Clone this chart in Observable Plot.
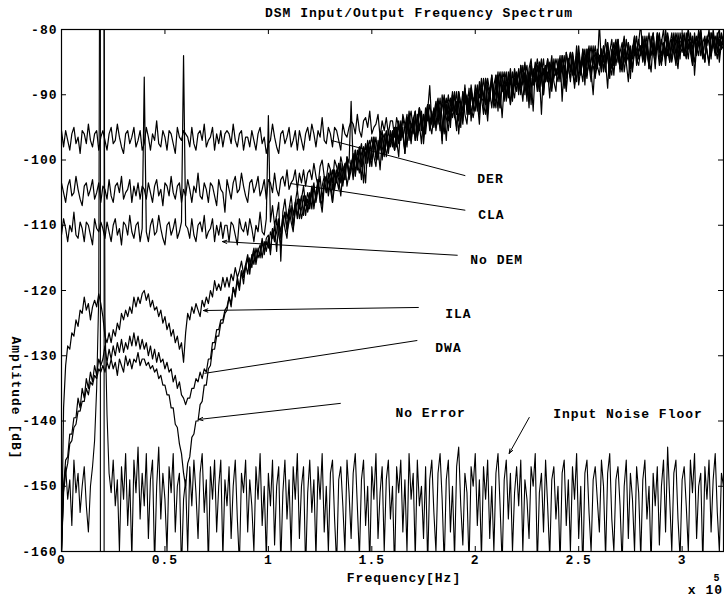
<!DOCTYPE html>
<html>
<head>
<meta charset="utf-8">
<script src="https://cdn.jsdelivr.net/npm/d3@7"></script>
<script src="https://cdn.jsdelivr.net/npm/@observablehq/plot@0.6"></script>
<style>
  html, body { margin: 0; padding: 0; background: white; }
  #chart { width: 724px; height: 597px; }
</style>
</head>
<body>
<div id="chart"></div>
<script>
// ---------- axis ticks ----------
const xTicks = [0, 0.5, 1, 1.5, 2, 2.5, 3];
const yTicks = [-160, -150, -140, -130, -120, -110, -100, -90, -80];

// ---------- spectra of the DEM variants (frequency in 1e5 Hz, sampled every 0.01) ----------
const demStep = 0.01;
const derDb = [
 -95.5,-98,-95.5,-97,-98.5,-96,-95,-97.5,-96.5,-99,-95.5,-96,-97.5,-94.5,-97,-98,-96,-95.5,-98.5,-96.5,
 -95.5,-97,-98.5,-96,-95,-97.5,-97,-94.5,-96.5,-98,-99,-96,-95.5,-97.5,-96.5,-95,-98,-97,-95.5,-98.5,
 -97.5,-95,-96.5,-98.5,-96,-97,-94,-97.5,-98,-95.5,-96.5,-98.5,-95.5,-96,-97.5,-99,-95,-96.5,-97,-95.5,
 -96,-96.5,-98,-95,-97.5,-98.5,-96,-95.5,-97,-94.5,-98,-97,-96.5,-95,-98.5,-96,-97.5,-95.5,-98,-96,
 -95.5,-96,-97.5,-94.5,-97,-98,-96,-95.5,-98.5,-96.5,-96.5,-98,-95.5,-97,-98.5,-96,-95,-97.5,-96.5,-99,
 -97.5,-97,-94.5,-96.5,-98,-99,-96,-95.5,-97.5,-96.5,-95,-98,-97,-95.5,-98.5,-95.5,-97,-98.5,-96,-95,
 -97,-94.5,-96,-98,-95.5,-96.5,-93.5,-97,-97.5,-95,-96,-98,-95,-95.5,-97,-98.5,-94.5,-96,-96.5,-95,
 -94,-94.5,-96,-93,-95.5,-96.5,-94,-93.5,-95,-92.5,-96,-95,-94.5,-93,-96.5,-94,-95.5,-93.5,-96,-94,
 -94,-96.5,-93.5,-95,-97,-93,-94.5,-96,-92.5,-95,-93.5,-97,-94,-92,-95.5,-93,-96,-92.5,-88.6,-94.5,
 -92,-95.5,-93,-90.5,-94,-96,-91.5,-92.5,-95,-90,-93.5,-91,-96,-92.5,-89.5,-93,-94.5,-90.5,-92,-93.5,
 -91.5,-88.5,-93,-90,-87.5,-91,-94,-89.5,-88,-92,-90.5,-87,-89.5,-93.5,-88.5,-90,-86.5,-91.5,-89,-87.5,
 -89.5,-86.5,-88,-91,-87,-85.5,-89.5,-87.5,-92.5,-86,-88.5,-85,-87.5,-90,-86.5,-84.5,-88,-89.5,-85.5,-87,
 -85.5,-88,-84,-86.5,-89.5,-85,-83.5,-87,-85.5,-84,-88.5,-86,-83,-85.5,-87.5,-84,-86.5,-90,-84.5,-83.5,
 -84,-86.5,-82.5,-85,-83.5,-87.5,-84,-82,-85.5,-83,-86,-84.5,-81.5,-85,-88,-83,-84.5,-82,-85.5,-83.5,
 -82.5,-85,-83,-81,-84.5,-86.5,-82,-83.5,-80.5,-84,-85.5,-82,-83.5,-81,-85,-82.5,-80.5,-84,-86,-82,
 -81.5,-84,-82.5,-80,-83.5,-85.5,-81,-82.5,-84,-80.5,-83,-85,-81.5,-82,-84.5,-80.5,-83,-81.5,-85,-82,
 -81.5];
const claDb = [
 -103.5,-105,-106.5,-104,-103,-105.5,-105,-102.5,-104.5,-106,-107,-104,-103.5,-105.5,-104.5,-103,-106,-105,-103.5,-106.5,
 -104,-104.5,-106,-103,-105.5,-106.5,-104,-103.5,-105,-102.5,-106,-105,-104.5,-103,-106.5,-104,-105.5,-103.5,-106,-104,
 -104.5,-106,-103.5,-105,-106.5,-104,-103,-105.5,-104.5,-107,-103.5,-104,-105.5,-102.5,-105,-106,-104,-103.5,-106.5,-104.5,
 -105.5,-103,-104.5,-106.5,-104,-105,-102,-105.5,-106,-103.5,-104.5,-106.5,-103.5,-104,-105.5,-107,-103,-104.5,-105,-108,
 -103,-104.5,-106,-103.5,-102.5,-105,-104.5,-102,-104,-105.5,-106.5,-103.5,-103,-105,-104,-102.5,-105.5,-104.5,-103,-106,
 -103,-103.5,-105,-102,-104.5,-105.5,-103,-102.5,-104,-101.5,-104.5,-103.5,-103,-101.5,-104.5,-102,-103.5,-101.5,-104,-102,
 -101.5,-103,-100.5,-102.5,-104,-101,-100,-102.5,-103,-100.5,-101.5,-103.5,-100,-101,-102.5,-99.5,-101,-103,-99.5,-100.5,
 -91,-101,-98.5,-100.5,-102,-99,-98,-100.5,-97.5,-99,-101,-97,-98.5,-100,-96.5,-98,-99.5,-96,-98,-97,
 -95.5,-98.5,-96,-94,-97,-95,-99,-94.5,-93.5,-96.5,-94,-97,-93,-95.5,-92.5,-96,-94,-91.5,-95,-93,
 -94.5,-91.5,-92.5,-95.5,-90,-93,-97,-91.5,-90.5,-93.5,-92,-89.5,-94,-91,-92.5,-88.5,-93,-90.5,-89,-92.5,
 -89.5,-92.5,-88,-90.5,-91,-87.5,-93,-89,-88.5,-91.5,-87,-90,-92,-88,-86.5,-90.5,-89,-87.5,-91,-86.5,
 -88.5,-86,-90,-87.5,-85,-89,-86.5,-91.5,-86,-88,-85.5,-89.5,-87,-84.5,-88,-86.5,-90.5,-85,-87.5,-86,
 -87,-84.5,-85.5,-88.5,-83.5,-86,-87.5,-84,-89,-85.5,-83.5,-86.5,-84.5,-87,-83,-85.5,-88,-84,-86,-83,
 -85.5,-83,-86.5,-84,-82,-85.5,-87,-83.5,-84,-81.5,-85,-86.5,-83,-84.5,-82,-86,-83.5,-81,-84.5,-85.5,
 -83,-81.5,-84.5,-82.5,-86,-81,-83.5,-85,-82,-80.5,-84,-82.5,-85.5,-81.5,-83,-84.5,-81,-82.5,-85,-80.5,
 -82.5,-84,-80.5,-83,-82,-85,-81,-83.5,-80,-82.5,-84.5,-81.5,-82.5,-80,-84,-82,-81,-83.5,-80.5,-82.5,
 -81];
const noDemDb = [
 -111.5,-109,-110.5,-112.5,-110,-111,-108,-111.5,-112,-109.5,-110.5,-112.5,-109.5,-110,-111.5,-113,-109,-110.5,-111,-109.5,
 -110.5,-112,-109.5,-111,-112.5,-110,-109,-111.5,-110.5,-113,-109.5,-110,-111.5,-108.5,-111,-112,-110,-109.5,-112.5,-110.5,
 -87.3,-111,-112.5,-110,-109,-111.5,-111,-108.5,-110.5,-112,-113,-110,-109.5,-111.5,-110.5,-109,-112,-111,-109.5,-84,
 -110,-110.5,-112,-109,-111.5,-112.5,-110,-109.5,-111,-108.5,-112,-111,-110.5,-109,-112.5,-110,-111.5,-109.5,-112,-110,
 -110,-112.5,-109.5,-110,-111.5,-113,-109,-110.5,-111,-109.5,-111.5,-109,-110.5,-112.5,-110,-111,-108,-111,-111.5,-109,
 -93.2,-109.5,-107,-110,-108.5,-106.5,-115.5,-108,-106,-109,-107.5,-105.5,-108.5,-106.5,-104.5,-107.5,-106,-104,-107,-105,
 -106.5,-104,-107.5,-105,-103.5,-106,-108,-104,-102.5,-105.5,-103,-106.5,-104,-101.5,-103,-105.5,-102,-100.5,-104,-102,
 -100.5,-103,-99,-101.5,-98,-100,-103.5,-99,-97.5,-100.5,-98.5,-96.5,-100,-98,-101.5,-97,-96,-99.5,-97.5,-95.5,
 -98,-95.5,-97,-99.5,-94.5,-96,-98.5,-93.5,-95,-97.5,-94,-92.5,-96.5,-95,-93,-97.5,-94,-92,-95.5,-94,
 -92.5,-95,-91,-93.5,-96.5,-92,-90.5,-94,-92.5,-89.5,-93,-95,-90.5,-92,-94.5,-89,-91.5,-93,-90,-91.5,
 -92.5,-89,-90.5,-87.5,-91.5,-93,-88.5,-90,-87,-91,-89.5,-86.5,-92,-88.5,-90.5,-87,-89,-91.5,-86.5,-88.5,
 -87,-90,-85.5,-88.5,-87,-91,-86,-84.5,-88.5,-87,-89.5,-85,-87.5,-90,-85.5,-88,-86.5,-84,-88,-89.5,
 -84.5,-87,-86,-89,-83.5,-85.5,-88,-84,-86.5,-82.5,-87.5,-85,-84,-88.5,-83,-86,-85,-82.5,-87,-85.5,
 -87,-83.5,-85,-81.5,-84.5,-86.5,-83,-85.5,-82,-84,-86,-83,-81,-85,-84,-87.5,-82.5,-84,-83,-81.5,
 -84,-82,-85.5,-83,-80.5,-84,-82.5,-86,-81,-83.5,-82,-80,-84.5,-83,-85,-81.5,-83.5,-80.5,-82,-84.5,
 -80.5,-83,-84.5,-81.5,-82,-85,-80.5,-83.5,-82,-80,-84,-81.5,-83,-85.5,-80.5,-82,-83.5,-81,-80,-83,
 -82.5];
const ilaDb = [
 -160,-138,-131.5,-128.5,-129,-126.5,-127,-124.5,-125.5,-123,-123.5,-121,-123,-122,-124.5,-122.5,-121.5,-122.5,-120.5,-122,
 -124,-127,-128,-126.5,-128,-126,-127,-125,-126,-123.5,-124.5,-123,-124,-122.5,-123.5,-121,-122.5,-121,-122,-120.5,
 -120,-121.5,-120.5,-122.5,-121.5,-123,-122.5,-124,-123,-125,-124,-126,-125,-127,-126,-128,-127,-129,-128,-131,
 -126.5,-123.5,-124.5,-122.5,-123.5,-122,-123,-124,-121.5,-122.5,-121,-122,-120,-121,-118.5,-120,-119,-120,-118,-119.5,
 -118,-119.5,-117.5,-118.5,-116.5,-118,-117,-115.5,-117.5,-116,-114.5,-116.5,-115,-113.5,-116,-114,-113,-115,-112.5,-114,
 -112,-114.5,-110.5,-112.5,-109,-111.5,-113,-109.5,-108,-111,-109.5,-107,-110.5,-108,-106,-109,-107.5,-105.5,-108.5,-106,
 -107.5,-105,-103.5,-106.5,-104.5,-102.5,-106,-103.5,-105,-102,-104.5,-106.5,-101.5,-103,-104.5,-100.5,-103.5,-102,-100,-103,
 -101.5,-99.5,-102,-98.5,-100,-103,-98,-99.5,-97,-101,-98,-96.5,-99.5,-98.5,-96,-100,-97,-95.5,-98.5,-97,
 -96,-98.5,-95,-97.5,-94.5,-96,-99,-93.5,-95.5,-97,-94,-92.5,-96,-94.5,-97.5,-93,-95,-92,-94.5,-96,
 -93,-91,-94.5,-92,-97.5,-90.5,-93,-91.5,-94,-90,-92.5,-95.5,-89.5,-91.5,-93.5,-90,-92,-89,-94,-90.5,
 -91,-89,-92.5,-88,-90,-91.5,-87.5,-89.5,-92,-88.5,-87,-90.5,-89,-86.5,-91,-88,-89.5,-86.5,-90,-88.5,
 -86.5,-89.5,-88,-85.5,-90,-87,-92,-85.5,-88.5,-86,-87.5,-89.5,-85,-86.5,-88,-84.5,-87,-89,-85.5,-86.5,
 -88,-85,-86.5,-84,-87.5,-85.5,-83.5,-86.5,-88.5,-84.5,-85,-87,-83,-86,-84.5,-82.5,-86.5,-85,-83.5,-86,
 -79,-85.5,-84,-86.5,-82.5,-84,-86,-83,-81.5,-85,-83.5,-82,-86.5,-84,-82.5,-85,-83,-81,-84.5,-83,
 -82.5,-84.5,-81,-83.5,-85,-82,-80.5,-84,-82.5,-85.5,-81.5,-83,-84,-80.5,-82.5,-85,-83,-81,-84,-82.5,
 -83.5,-81,-82.5,-84.5,-80.5,-83,-81.5,-84,-82,-80.5,-83.5,-85,-81,-82,-84,-80,-82.5,-84.5,-81.5,-83,
 -81.5];
const dwaDb = [
 -160,-150,-146,-145.5,-142,-142,-139.5,-139.5,-136.5,-138,-135,-136.5,-133.5,-135,-132.5,-134,-131.5,-133,-130.5,-131.5,
 -130.5,-128.5,-131,-129,-130.5,-128.5,-130,-128,-129.5,-127.5,-129.5,-128,-129,-127,-128.5,-126.5,-128.5,-127,-129,-127.5,
 -129,-128,-130,-128.5,-130.5,-129,-131,-129.5,-131,-130.5,-132,-131,-132.5,-132,-134,-133,-135,-134,-136,-136.5,
 -137.5,-136.5,-136.5,-135,-135,-133.5,-134,-132.5,-133.5,-132,-132.5,-130.5,-130.5,-128,-128,-126,-126,-124.5,-124.5,-123,
 -122.5,-121,-122,-119.5,-120.5,-118,-119.5,-117,-118,-116.5,-115,-117.5,-114.5,-116,-113.5,-115,-114,-112,-114.5,-112.5,
 -113.5,-111,-112,-110,-114,-109.5,-111,-108.5,-110.5,-112,-108,-107.5,-110,-106.5,-109,-107,-105.5,-108.5,-106,-107.5,
 -105,-107.5,-104,-106,-103,-105.5,-107,-103.5,-102.5,-105,-103,-101.5,-104.5,-102.5,-100.5,-103.5,-101,-103,-99.5,-102,
 -100,-102,-98.5,-101.5,-99,-97.5,-100.5,-103.5,-98,-97,-100,-98.5,-96.5,-99.5,-97,-95.5,-98.5,-96.5,-99,-96,
 -97,-95,-98,-94.5,-96.5,-93.5,-95.5,-98,-94,-92.5,-95.5,-93.5,-97,-92,-94.5,-95.5,-92,-94,-91.5,-93.5,
 -94,-92,-90.5,-93.5,-97,-91,-92.5,-90,-94,-91.5,-89.5,-93,-91,-95,-89.5,-91.5,-90,-93,-88.5,-91,
 -90,-92,-88.5,-90.5,-93,-87.5,-89,-91,-87.5,-90,-88.5,-92.5,-87,-89.5,-88,-86.5,-90.5,-88,-89,-86,
 -88,-86.5,-89,-87,-85.5,-88.5,-90.5,-86,-87.5,-85,-88,-86.5,-84.5,-89,-86,-87.5,-85,-88.5,-86.5,-84.5,
 -86,-84,-91,-85.5,-87,-84.5,-86,-83.5,-85.5,-88,-84,-86.5,-85,-83,-87,-84.5,-82.5,-85.5,-87.5,-84,
 -85,-83,-86,-84.5,-82,-85.5,-84,-87,-83,-81.5,-84.5,-86,-83,-85,-82,-84,-86.5,-82.5,-84,-82,
 -79,-84.5,-82,-83.5,-85.5,-81.5,-83,-84,-80.5,-82.5,-85,-83,-81,-84,-82.5,-80.5,-83.5,-85,-81.5,-83,
 -82,-80.5,-84,-82.5,-81,-83.5,-85,-81,-82.5,-80,-83,-84.5,-81.5,-80.5,-83,-82,-84,-80.5,-82.5,-81,
 -82];
const noErrorDb = [
 -160,-151,-148,-146.5,-143.5,-143,-141,-140.5,-138.5,-138.5,-137,-137,-135,-136,-134,-134.5,-133,-133.5,-132,-132.5,
 -131.5,-132.5,-131,-132,-130.5,-132,-131,-133,-130.5,-131.5,-132.5,-130,-131.5,-130.5,-132,-130.5,-131,-129.5,-131.5,-130.5,
 -130.5,-131.5,-131,-132,-131.5,-132.5,-132,-133.5,-133,-134.5,-134.5,-136,-136,-138,-138,-140.5,-141,-143.5,-145,-148,
 -150,-146.5,-145.5,-142.5,-142,-140,-140,-137.5,-137,-134.5,-134.5,-132,-131.5,-129,-129,-127,-127,-125,-125,-123.5,
 -123,-121,-122.5,-119.5,-121,-118.5,-120,-117,-119,-116,-117.5,-115,-116.5,-114,-115.5,-113.5,-115,-112.5,-114,-112,
 -111.5,-114,-110.5,-112.5,-111,-109,-112,-110,-108,-110.5,-107.5,-109.5,-111,-107,-108.5,-106,-109,-107.5,-105.5,-108,
 -106.5,-104.5,-107,-105.5,-103,-106.5,-104,-102.5,-105,-103.5,-101.5,-104.5,-102,-103.5,-100.5,-102.5,-104,-101,-100,-102.5,
 -101,-99,-102.5,-100,-98,-101,-99.5,-97.5,-100.5,-98,-96.5,-99.5,-101,-97,-98.5,-96,-99,-97.5,-95.5,-98,
 -96.5,-98.5,-95,-97,-94,-96.5,-95,-93,-97,-94.5,-96,-93.5,-95.5,-92,-94,-96.5,-93,-91.5,-94.5,-92.5,
 -95,-92.5,-91,-94,-92,-90,-93.5,-95.5,-91,-92.5,-90,-93,-89.5,-91.5,-94,-90,-91,-92.5,-89,-92,
 -88.5,-91,-94.5,-89,-90.5,-88,-91.5,-89.5,-87,-90,-92,-88,-86.5,-89.5,-87.5,-91,-88.5,-86,-89,-90.5,
 -87,-89,-85.5,-88,-86.5,-90,-87.5,-85,-88.5,-87,-84.5,-87,-93,-86,-88,-85,-86.5,-88.5,-84.5,-87,
 -85.5,-87.5,-84,-86,-89,-84.5,-86.5,-83.5,-87,-85,-82.5,-86,-88,-84,-85.5,-83,-87,-84.5,-82.5,-85.5,
 -84,-86,-82.5,-85,-89,-83.5,-81.5,-85.5,-84,-82,-86.5,-83,-85,-81.5,-84.5,-82.5,-86,-83.5,-81,-84.5,
 -83.5,-81,-84.5,-82,-86,-83,-80.5,-84,-82.5,-81,-85,-83.5,-80,-82.5,-84.5,-81.5,-83,-85.5,-80.5,-83,
 -81.5,-84,-82,-80,-83.5,-81,-87,-82.5,-80.5,-84,-82,-81,-83.5,-85,-80.5,-82,-83.5,-81,-84,-80.5,
 -82];

// ---------- input noise floor (sampled every 0.01), input tone near 0.19-0.20 ----------
const floorStep = 0.01;
const noiseFloorDb = [
 -160,-150,-147,-152,-149,-156,-146,-151,-148,-154,-150,-147,-153,-157,-150,-147,-143,-135,-121,0,
 0,-124,-139,-148,-151,-146,-153,-149,-160,-147,-152,-145,-156,-149,-161,-146,-151,-144,-155,-148,
 -153,-145,-158,-149,-146,-162,-150,-144,-155,-148,-152,-160,-147,-151,-145,-157,-150,-148,-163,-152,
 -149,-160,-147,-153,-146,-151,-158,-148,-145,-154,-149,-162,-147,-152,-146,-157,-150,-146,-161,-149,
 -153,-147,-158,-150,-146,-155,-162,-148,-151,-146,-157,-149,-153,-160,-147,-152,-145,-156,-150,-161,
 -148,-153,-146,-159,-150,-147,-162,-151,-146,-155,-149,-160,-147,-152,-145,-158,-150,-147,-163,-151,
 -146,-154,-149,-161,-147,-152,-145,-157,-150,-160,-148,-146,-155,-162,-149,-147,-153,-160,-146,-151,
 -158,-148,-145,-153,-161,-149,-146,-156,-150,-162,-147,-152,-145,-158,-151,-147,-160,-149,-146,-155,
 -150,-163,-147,-151,-146,-157,-149,-160,-145,-152,-148,-161,-146,-153,-150,-158,-147,-162,-149,-146,
 -154,-160,-148,-145,-152,-162,-149,-146,-157,-150,-161,-147,-144,-153,-159,-148,-151,-162,-147,-150,
 -145,-156,-149,-161,-147,-152,-146,-158,-150,-160,-148,-145,-153,-162,-149,-146,-155,-148,-160,-151,
 -147,-153,-146,-160,-149,-152,-158,-147,-150,-145,-162,-151,-148,-157,-146,-153,-161,-149,-147,-155,
 -150,-162,-148,-146,-156,-149,-160,-147,-152,-145,-158,-150,-163,-148,-146,-154,-160,-149,-147,-152,
 -157,-146,-150,-161,-148,-145,-155,-160,-149,-147,-153,-162,-150,-146,-158,-148,-152,-160,-147,-151,
 -161,-149,-146,-155,-150,-162,-148,-153,-147,-159,-150,-146,-157,-144,-152,-160,-148,-146,-155,-161,
 -149,-147,-153,-160,-146,-151,-145,-158,-150,-148,-162,-147,-152,-146,-157,-149,-145,-154,-160,-148,
 -150];

// input tone flanks (the tone itself is far above the top of the axis)
const toneFreq = [0.188, 0.206];

// ---------- annotations ----------
const labelNames = ["DER", "CLA", "No DEM", "ILA", "DWA", "No Error", "Input Noise Floor"];
const labelFreq  = [2.010, 2.014, 1.976, 1.855, 1.807, 1.614, 2.377];
const labelDb    = [-102.84, -108.35, -115.25, -123.52, -128.74, -138.70, -138.85];
const pointerFromFreq = [1.952, 1.952, 1.913, 1.725, 1.720, 1.348, 2.261];
const pointerFromDb   = [-102.4, -107.7, -114.6, -122.6, -127.66, -137.3, -139.46];
const pointerToFreq   = [1.304, 1.106, 0.778, 0.686, 0.691, 0.662, 2.164];
const pointerToDb     = [-97.0, -103.6, -112.5, -123.07, -132.7, -139.77, -144.98];
const pointerHasHead  = [false, false, true, true, false, true, true];

// ---------- build tables ----------
const seriesNames = ["DER", "CLA", "No DEM", "ILA", "DWA", "No Error"];
const seriesValues = [derDb, claDb, noDemDb, ilaDb, dwaDb, noErrorDb];
const demRows = [];
seriesNames.forEach((name, k) => {
  seriesValues[k].forEach((v, i) => demRows.push({series: name, freq: +(i * demStep).toFixed(4), db: v}));
});
const floorRows = noiseFloorDb.map((v, i) => ({freq: +(i * floorStep).toFixed(4), db: v}));
const pointers = labelNames.map((name, i) => ({
  name, x1: pointerFromFreq[i], y1: pointerFromDb[i], x2: pointerToFreq[i], y2: pointerToDb[i], head: pointerHasHead[i]
}));
const labels = labelNames.map((name, i) => ({name, x: labelFreq[i], y: labelDb[i]}));

const FONT = "'Liberation Mono', 'Courier New', monospace";
const yMin = -160, yMax = -80, xMin = 0, xMax = 3.2;

const chart = Plot.plot({
  width: 724,
  height: 597,
  marginTop: 29,
  marginBottom: 46,
  marginLeft: 61,
  marginRight: 1,
  style: `font-family: ${FONT}; font-size: 13px; font-weight: bold; letter-spacing: 1px; background: white; color: black;`,
  x: {domain: [xMin, xMax], ticks: xTicks, tickSize: 0, tickPadding: 3, tickFormat: d => String(d), label: null},
  y: {domain: [yMin, yMax], ticks: yTicks, tickSize: 0, tickPadding: 4, tickFormat: d => String(d), label: null},
  marks: [
    // spectra
    Plot.line(floorRows, {x: "freq", y: "db", stroke: "black", strokeWidth: 1.1, clip: true}),
    Plot.line(demRows, {x: "freq", y: "db", z: "series", stroke: "black", strokeWidth: 1.2, clip: true}),
    Plot.ruleX(toneFreq, {x: d => d, y1: yMin, y2: yMax, stroke: "black", strokeWidth: 1.1}),
    // annotation pointers
    Plot.link(pointers.filter(p => !p.head), {x1: "x1", y1: "y1", x2: "x2", y2: "y2", stroke: "black", strokeWidth: 1}),
    Plot.arrow(pointers.filter(p => p.head), {x1: "x1", y1: "y1", x2: "x2", y2: "y2", stroke: "black", strokeWidth: 1, headLength: 7, headAngle: 40}),
    Plot.text(labels, {x: "x", y: "y", text: "name", textAnchor: "start", fill: "black", fontFamily: FONT, fontSize: 13, fontWeight: "bold"}),
    // inward ticks on all four sides
    Plot.ruleX(xTicks, {x: d => d, y1: yMin, y2: yMin, insetBottom: 5, stroke: "black"}),
    Plot.ruleX(xTicks, {x: d => d, y1: yMax, y2: yMax, insetBottom: -5, stroke: "black"}),
    Plot.ruleY(yTicks, {y: d => d, x1: xMin, x2: xMin, insetRight: -5, stroke: "black"}),
    Plot.ruleY(yTicks, {y: d => d, x1: xMax, x2: xMax, insetRight: 5, stroke: "black"}),
    Plot.frame({stroke: "black", strokeWidth: 1.2})
  ]
});

document.getElementById("chart").appendChild(chart);

// title and axis labels
const svg = d3.select(chart);
const addText = (txt, attrs) => {
  const t = svg.append("text").text(txt)
    .attr("fill", "black")
    .attr("font-family", FONT)
    .attr("font-weight", "bold");
  Object.entries(attrs).forEach(([k, v]) => t.attr(k, v));
  return t;
};
addText("DSM Input/Output Frequency Spectrum", {x: 419, y: 17, "text-anchor": "middle", "font-size": 13});
addText("Amplitude [dB]", {transform: "translate(12,398) rotate(90)", "text-anchor": "middle", "font-size": 13});
addText("Frequency[Hz]", {x: 404, y: 582, "text-anchor": "middle", "font-size": 13});
addText("x 10", {x: 723, y: 594, "text-anchor": "end", "font-size": 13});
addText("5", {x: 717, y: 581, "text-anchor": "middle", "font-size": 10});
</script>
</body>
</html>
